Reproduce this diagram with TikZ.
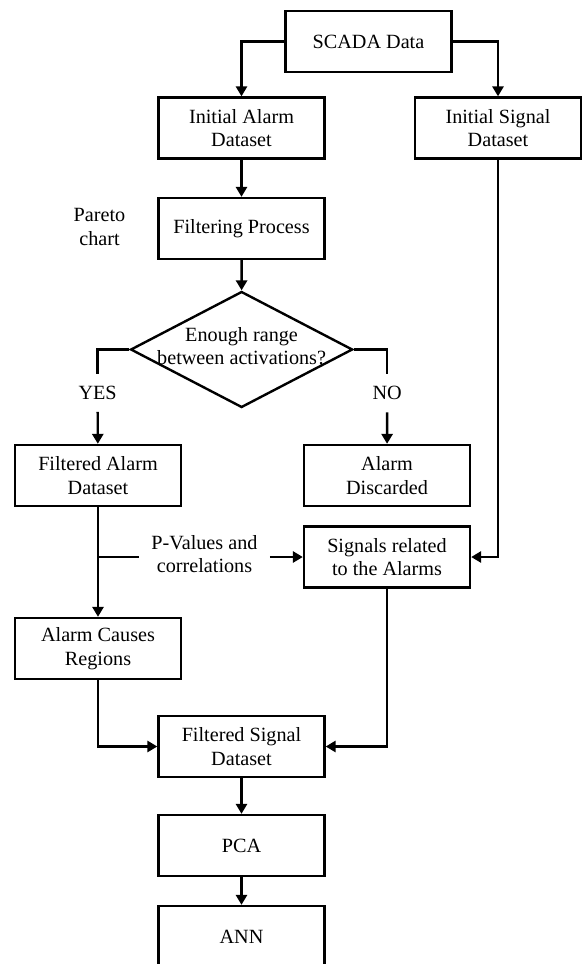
\documentclass[tikz,border=0pt]{standalone}
\usepackage{fontspec}
\setmainfont{Liberation Serif}
\usetikzlibrary{shapes.geometric}
\usetikzlibrary{arrows.meta}
\tikzset{
  box/.style={draw, line width=1.2pt, minimum width=83pt, minimum height=30.5pt, inner sep=2pt, align=center},
  decision/.style={draw, diamond, line width=1.2pt, minimum width=111pt, minimum height=58pt, inner sep=0pt},
  lbl/.style={align=center, inner sep=6pt},
  line/.style={line width=1.2pt},
  arr/.style={line width=1.2pt, -{Triangle[length=5pt,width=5.6pt]}}
}
\begin{document}
\begin{tikzpicture}[x=0.5pt,y=-0.5pt,font=\fontsize{10.1}{11.7}\selectfont]
      \useasboundingbox (0,0) rectangle (582,964);
      \clip (0,0) rectangle (582,964);
      %boxes
      \node[box] (scadaData) at (368.5,41.5) {SCADA Data};
      \node[box] (initAlarm) at (241.5,128) {Initial Alarm\\Dataset};
      \node[box] (initSignal) at (498,128) {Initial Signal\\Dataset};
      \node[box] (filterProc) at (241.5,228.5) {Filtering Process};
      \node[decision] (rangeCheck) at (241.6,349.5) {};
      \node[align=center] (rangeText) at (241.6,346) {Enough range\\between activations?};
      \node[box] (filtAlarm) at (98,475.5) {Filtered Alarm\\Dataset};
      \node[box] (alarmDisc) at (387,475.5) {Alarm\\Discarded};
      \node[box] (sigRelated) at (387,557) {Signals related\\to the Alarms};
      \node[box] (causeRegions) at (98,648.5) {Alarm Causes\\Regions};
      \node[box] (filtSignal) at (241.5,746.5) {Filtered Signal\\Dataset};
      \node[box] (pca) at (241.5,845.5) {PCA};
      \node[box] (ann) at (241.5,936.5) {ANN};
      %labels
      \node[align=center] (pareto) at (99.5,227) {Pareto\\chart};
      \node[lbl] (yesLbl) at (97.6,392.7) {YES};
      \node[lbl] (noLbl) at (387.2,393.3) {NO};
      \node[lbl, inner xsep=6pt] (pValues) at (204.5,554) {P-Values and\\correlations};
      %arrows
      \draw[arr] (scadaData.west) -| (initAlarm.north);
      \draw[arr] (scadaData.east) -| (initSignal.north);
      \draw[arr] (initAlarm) -- (filterProc);
      \draw[arr] (filterProc) -- (rangeCheck.north);
      \draw[line] (rangeCheck.west) -| (yesLbl.north);
      \draw[arr] (yesLbl) -- (filtAlarm);
      \draw[line] (rangeCheck.east) -| (noLbl.north);
      \draw[arr] (noLbl) -- (alarmDisc);
      \draw[arr] (filtAlarm) -- (causeRegions);
      \draw[line] (filtAlarm.south |- sigRelated.west) -- (pValues.west |- sigRelated.west);
      \draw[arr] (pValues.east |- sigRelated.west) -- (sigRelated.west);
      \draw[arr] (initSignal.south) |- (sigRelated.east);
      \draw[arr] (causeRegions.south) |- (filtSignal.west);
      \draw[arr] (sigRelated.south) |- (filtSignal.east);
      \draw[arr] (filtSignal) -- (pca);
      \draw[arr] (pca) -- (ann);
\end{tikzpicture}
\end{document}
